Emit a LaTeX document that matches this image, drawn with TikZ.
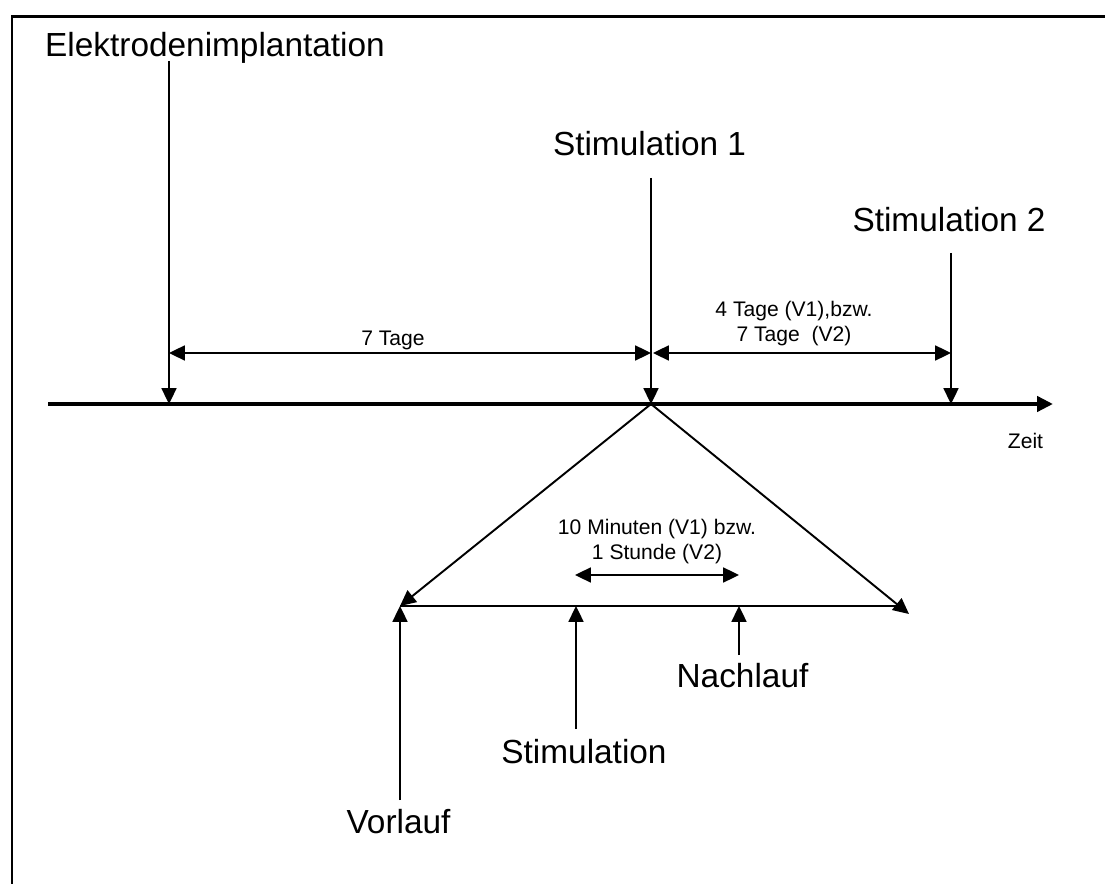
\documentclass[tikz,border=0pt]{standalone}
\usepackage{fontspec}
\setmainfont{Liberation Sans}
\usetikzlibrary{arrows.meta, positioning}

\begin{document}
\begin{tikzpicture}[x=0.02cm, y=-0.02cm, >={Triangle[length=9pt, width=8.5pt]},
							biglabel/.style = {font=\fontsize{19}{23}\selectfont, inner sep=0pt, anchor=base},
							smalllabel/.style = {font=\fontsize{12}{14.6}\selectfont, inner sep=0pt, anchor=base, align=center},
							pointer/.style = {line width=1.1pt, ->},
							span/.style = {line width=1.1pt, <->}
						]
						\useasboundingbox (0,0) rectangle (1105,884);
						\draw[line width=1.7pt] (12,884) -- (12,16.5) -- (1105,16.5);
						% time axis
						\coordinate (axisstart) at (48,404);
						\coordinate (axisend) at (1053,404);
						\draw[line width=2.3pt, ->] (axisstart) -- (axisend);
						\node[smalllabel] (zeit) at (1025.5,449) {Zeit};
						% events on the axis
						\foreach \name/\x/\top in {implant/169/61, stimA/651/178, stimB/951/253}{
							\coordinate (\name-on) at (\x,404);
							\coordinate (\name-top) at (\x,\top);
							\coordinate (\name-dim) at (\x,353);
							\draw[pointer] (\name-top) -- (\name-on);}
						\node[biglabel] (implant) at (215,57) {Elektrodenimplantation};
						\node[biglabel] (stimA) at (649.5,156) {Stimulation 1};
						\node[biglabel] (stimB) at (949,232) {Stimulation 2};
						\coordinate (stimA-dimr) at (653,353);
						\draw[span] (implant-dim) -- (stimA-dim);
						\draw[span] (stimA-dimr) -- (stimB-dim);
						\node[smalllabel] (week) at (393,346) {7 Tage};
						\node[smalllabel] (pause) at (794,341.7) {4 Tage (V1),bzw.\\7 Tage~~(V2)};
						% one stimulation session
						\coordinate (phaseL) at (400,606);
						\coordinate (phaseR) at (897,606);
						\coordinate (zoomR) at (909,614);
						\draw[line width=1.7pt] (phaseL) -- (phaseR);
						\draw[pointer] (stimA-on) -- (phaseL);
						\draw[pointer] (stimA-on) -- (zoomR);
						\foreach \name/\x/\low in {vor/400/800, stim/576/729, nach/739/655}{
							\coordinate (\name-on) at (\x,606);
							\coordinate (\name-low) at (\x,\low);
							\draw[pointer] (\name-low) -- (\name-on);}
						\node[biglabel] (vorlauf) at (398.5,833) {Vorlauf};
						\node[biglabel] (stimulation) at (584,763) {Stimulation};
						\node[biglabel] (nachlauf) at (742.5,687) {Nachlauf};
						\coordinate (sessionL) at (575,575);
						\coordinate (sessionR) at (739,575);
						\draw[span] (sessionL) -- (sessionR);
						\node[smalllabel] (session) at (657,560) {10 Minuten (V1) bzw.\\1 Stunde (V2)};
					\end{tikzpicture}
\end{document}
